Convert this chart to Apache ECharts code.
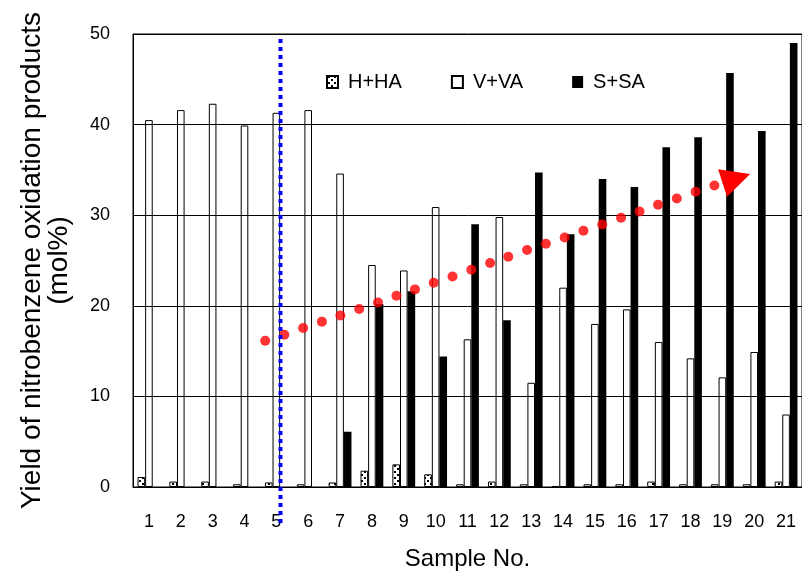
<!DOCTYPE html>
<html>
<head>
<meta charset="utf-8">
<script src="https://cdn.jsdelivr.net/npm/echarts@6.0.0/dist/echarts.min.js"></script>
<style>
  html, body { margin: 0; padding: 0; background: #fff; }
  #chart { width: 802px; height: 576px; }
</style>
</head>
<body>
<div id="chart"></div>
<script>
// sample numbers on the x axis
const samples = ['1','2','3','4','5','6','7','8','9','10','11','12','13','14','15','16','17','18','19','20','21'];
// yields, mol%
const hha = [1.1, 0.6, 0.6, 0.3, 0.5, 0.3, 0.5, 1.8, 2.5, 1.4, 0.3, 0.6, 0.3, 0.1, 0.3, 0.3, 0.6, 0.3, 0.3, 0.3, 0.6];
const vva = [40.5, 41.6, 42.3, 39.9, 41.3, 41.6, 34.6, 24.5, 23.9, 30.9, 16.3, 29.8, 11.5, 22.0, 18.0, 19.6, 16.0, 14.2, 12.1, 14.9, 8.0];
const ssa = [0, 0, 0, 0, 0, 0, 6.1, 20.2, 21.6, 14.4, 29.0, 18.4, 34.7, 27.9, 34.0, 33.1, 37.5, 38.6, 45.7, 39.3, 49.0];
const yTicks = { min: 0, max: 50, step: 10 };

// red dotted trend arrow (x in sample units, y in mol%)
const trendX = [4.65, 5.25, 5.84, 6.43, 7.01, 7.60, 8.19, 8.77, 9.35, 9.94, 10.53, 11.12, 11.71,
                12.28, 12.87, 13.46, 14.05, 14.64, 15.23, 15.82, 16.40, 16.98, 17.57, 18.16, 18.75];
const trendY = [16.15, 16.81, 17.55, 18.25, 18.94, 19.65, 20.37, 21.11, 21.81, 22.55, 23.24, 23.98, 24.72,
                25.41, 26.15, 26.85, 27.54, 28.28, 28.97, 29.71, 30.41, 31.15, 31.84, 32.58, 33.27];
const arrowFrom = [19.0, 33.55];
const arrowTo = [19.44, 34.05];

// blue dotted divider after sample 5
const splitX = 5.13;
const splitFrom = 49.45;
const splitTo = -4.0;

const font = '"Liberation Sans", Arial, sans-serif';

// dotted fill for H+HA
const dots = document.createElement('canvas');
dots.width = 6; dots.height = 6;
const g = dots.getContext('2d');
g.fillStyle = '#fff'; g.fillRect(0, 0, 6, 6);
g.fillStyle = '#000';
g.fillRect(1, 0, 2, 2);
g.fillRect(4, 3, 2, 2);

const chart = echarts.init(document.getElementById('chart'));
chart.setOption({
  animation: false,
  textStyle: { fontFamily: font, color: '#000' },
  grid: { left: 133, right: -8, top: 34, bottom: 88.5, show: true, borderColor: '#000', borderWidth: 1 },
  legend: {
    data: ['H+HA', 'V+VA', 'S+SA'],
    left: 326, top: 72,
    padding: 0,
    icon: 'rect',
    itemWidth: 11, itemHeight: 12, itemGap: 49,
    textStyle: { fontSize: 20, color: '#000', fontFamily: font, padding: [0, 0, 0, 5] }
  },
  xAxis: [
    {
      type: 'category',
      data: samples,
      axisLine: { lineStyle: { color: '#000', width: 1 } },
      axisTick: { length: 7, lineStyle: { color: '#000' } },
      axisLabel: { color: '#000', fontSize: 18, margin: 26, fontFamily: font },
      name: 'Sample No.',
      nameLocation: 'middle',
      nameGap: 60,
      nameTextStyle: { fontSize: 24, color: '#000', fontFamily: font }
    },
    { type: 'value', min: 0.5, max: 21.5, show: false }
  ],
  yAxis: {
    type: 'value',
    min: yTicks.min, max: yTicks.max, interval: yTicks.step,
    axisLine: { show: true, lineStyle: { color: '#000', width: 1 } },
    axisTick: { show: false },
    splitLine: { lineStyle: { color: '#000', width: 1 } },
    axisLabel: { color: '#000', fontSize: 18, margin: 23, fontFamily: font },
    name: 'Yield of nitrobenzene oxidation products\n(mol%)',
    nameLocation: 'middle',
    nameGap: 60,
    nameTextStyle: { fontSize: 28, lineHeight: 27, color: '#000', fontFamily: font }
  },
  series: [
    {
      name: 'H+HA', type: 'bar', data: hha, barWidth: 7.6, barGap: '0%',
      itemStyle: { color: { image: dots, repeat: 'repeat' }, borderColor: '#000', borderWidth: 1 }
    },
    {
      name: 'V+VA', type: 'bar', data: vva, barWidth: 7.6, barGap: '0%',
      itemStyle: { color: 'rgba(255,255,255,0)', borderColor: '#000', borderWidth: 1 }
    },
    {
      name: 'S+SA', type: 'bar', data: ssa, barWidth: 7.6, barGap: '0%',
      itemStyle: { color: '#000' }
    },
    {
      name: 'trend', type: 'scatter', xAxisIndex: 1,
      data: trendX.map((x, i) => [x, trendY[i]]),
      symbolSize: 10,
      itemStyle: { color: '#ff0000' },
      z: 5,
      markLine: {
        silent: true,
        symbol: ['none', 'triangle'],
        symbolSize: 29,
        label: { show: false },
        lineStyle: { color: '#ff0000', width: 1, type: 'solid' },
        data: [[{ coord: arrowFrom }, { coord: arrowTo }]]
      }
    },
    {
      name: 'divider', type: 'line', xAxisIndex: 1,
      data: [[splitX, splitFrom], [splitX, splitTo]],
      clip: false,
      showSymbol: false, symbol: 'none',
      lineStyle: { color: '#0000ff', width: 4, type: [4, 4], cap: 'butt' },
      z: 6
    }
  ]
});
</script>
</body>
</html>
